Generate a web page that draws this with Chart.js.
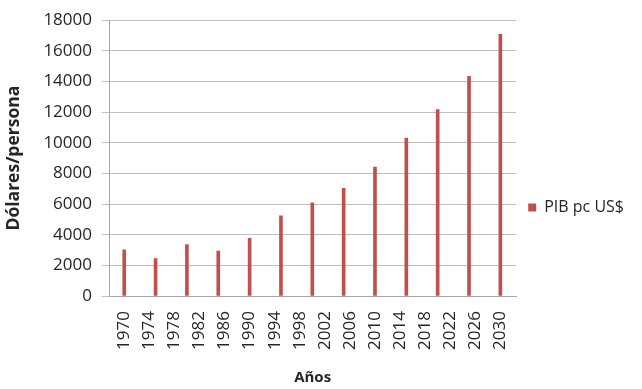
<!DOCTYPE html>
<html>
<head>
<meta charset="utf-8">
<script src="https://cdn.jsdelivr.net/npm/chart.js@4"></script>
<style>
  html, body { margin: 0; padding: 0; background: #fff; }
  #wrap { width: 642px; height: 389px; }
</style>
</head>
<body>
<div id="wrap"><canvas id="myChart" width="642" height="389"></canvas></div>
<script>
// bars every 5 years, tick labels every 4 years (as in the original sheet)
const years = [1970, 1975, 1980, 1985, 1990, 1995, 2000, 2005, 2010, 2015, 2020, 2025, 2030];
const pibValues = [3020, 2440, 3360, 2930, 3770, 5230, 6080, 7020, 8420, 10300, 12160, 14340, 17070];
const tickYears = [1970, 1974, 1978, 1982, 1986, 1990, 1994, 1998, 2002, 2006, 2010, 2014, 2018, 2022, 2026, 2030];
const seriesName = 'PIB pc US$';

Chart.defaults.font.family = "'Open Sans', sans-serif";
Chart.defaults.color = '#262626';

let points = [];
for (let i = 0; i < years.length; i++) {
  points.push({ x: years[i], y: pibValues[i] });
}

// push the legend down a little, it sits slightly below the middle in the original
const legendNudge = {
  id: 'legendNudge',
  afterLayout(chart) {
    chart.legend.top += 6;
    chart.legend.bottom += 6;
  }
};

const ctx = document.getElementById('myChart').getContext('2d');
const myChart = new Chart(ctx, {
  type: 'bar',
  data: {
    datasets: [{
      label: seriesName,
      data: points,
      backgroundColor: '#c0504d',
      borderWidth: 0,
      barThickness: 3
    }]
  },
  plugins: [legendNudge],
  options: {
    responsive: false,
    animation: false,
    layout: {
      padding: { top: 16, right: 8, bottom: 2, left: 4 }
    },
    scales: {
      x: {
        type: 'linear',
        min: 1969.6,
        max: 2030.5,
        afterBuildTicks: (scale) => {
          scale.ticks = tickYears.map(v => ({ value: v }));
        },
        afterFit: (scale) => { scale.height = 91; },
        grid: { display: false },
        border: { display: true, color: '#a6a6a6' },
        ticks: {
          autoSkip: false,
          minRotation: 90,
          maxRotation: 90,
          padding: 7,
          font: { size: 17 },
          callback: (v) => String(v)
        },
        title: {
          display: true,
          text: 'Años',
          font: { size: 15, weight: 'bold' },
          padding: 0
        }
      },
      y: {
        min: 0,
        max: 18000,
        afterFit: (scale) => { scale.width = 105; },
        grid: {
          color: '#bfbfbf',
          tickLength: 7
        },
        border: { color: '#a6a6a6' },
        ticks: {
          stepSize: 2000,
          padding: 10,
          font: { size: 17 },
          callback: (v) => String(v)
        },
        title: {
          display: true,
          text: 'Dólares/persona',
          font: { size: 17.5, weight: 'bold' },
          padding: 0
        }
      }
    },
    plugins: {
      legend: {
        position: 'right',
        labels: {
          boxWidth: 8,
          boxHeight: 8,
          padding: 12,
          font: { size: 16 }
        }
      },
      tooltip: { enabled: false }
    }
  }
});
</script>
</body>
</html>
